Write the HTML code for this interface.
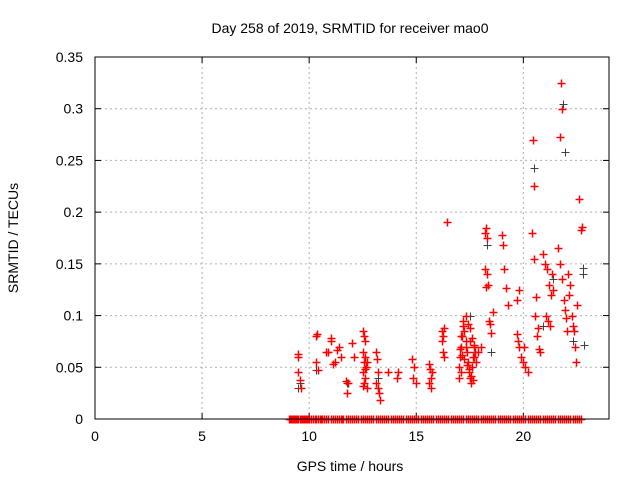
<!DOCTYPE html>
<html><head><meta charset="utf-8"><style>
html,body{margin:0;padding:0;background:#fff;}
svg{display:block;font-family:"Liberation Sans",sans-serif;}
</style></head><body>
<svg id="c" width="640" height="480" viewBox="0 0 640 480">
<text x="350" y="33" font-size="14" text-anchor="middle">Day 258 of 2019, SRMTID for receiver mao0</text>
<text x="350" y="471" font-size="14" text-anchor="middle">GPS time / hours</text>
<text x="18" y="238" font-size="14" text-anchor="middle" transform="rotate(-90 18 238)">SRMTID / TECUs</text>
<g id="grid"></g>
<g id="ticks"></g>
<rect x="95" y="57" width="514" height="362" fill="none" stroke="#000" stroke-width="1"/>
<g id="black"></g>
<g id="red"></g>
<line x1="95" y1="419" x2="609" y2="419" stroke="#000" stroke-width="1"/>
</svg>
<script>
const xTicks=[0,5,10,15,20];
const yTicks=[0,0.05,0.1,0.15,0.2,0.25,0.3,0.35];
const yTickLabels=["0","0.05","0.1","0.15","0.2","0.25","0.3","0.35"];
const redTimes=[9.5,9.5,9.5,9.55,9.6,10.3,10.35,10.3,10.4,10.8,10.9,11.0,11.1,11.2,11.3,11.4,11.5,11.0,11.7,11.8,11.75,12.0,12.1,12.5,12.55,12.6,12.5,12.6,12.55,12.65,12.5,12.6,12.55,12.7,12.5,12.6,12.7,13.1,13.15,13.2,13.1,13.25,13.3,13.2,13.7,14.1,14.15,14.8,14.9,14.85,15.0,15.6,15.65,15.7,15.6,15.75,15.7,16.2,16.25,16.3,16.2,16.25,16.3,16.45,
17.0,17.05,17.1,17.15,17.2,17.25,17.3,17.35,17.4,17.45,17.5,17.55,17.6,17.65,17.7,17.75,17.8,17.0,17.1,17.2,17.3,17.4,17.5,17.6,17.7,17.05,17.15,17.25,17.35,17.45,17.55,17.65,17.1,17.3,17.5,17.7,17.9,18.0,
18.2,18.25,18.3,18.2,18.3,18.35,18.25,18.4,18.45,18.5,18.6,19.0,19.05,19.1,19.2,19.3,19.7,19.75,19.8,19.9,20.0,20.1,20.2,19.7,19.8,20.05,
20.45,20.5,20.4,20.5,20.6,20.55,20.7,20.65,20.75,20.8,20.9,21.0,21.1,21.2,21.3,21.05,21.15,21.25,21.35,21.4,
21.75,21.8,21.7,21.6,21.7,21.8,21.9,21.95,22.0,22.05,22.1,22.2,22.15,22.25,22.3,22.35,22.4,22.45,22.5,22.6,22.7,22.75];
const redValues=[0.045,0.06,0.063,0.038,0.03,0.08,0.082,0.055,0.047,0.065,0.065,0.075,0.053,0.055,0.067,0.07,0.06,0.078,0.037,0.035,0.025,0.073,0.06,0.085,0.08,0.075,0.065,0.06,0.055,0.05,0.045,0.04,0.035,0.03,0.032,0.048,0.055,0.065,0.058,0.045,0.035,0.025,0.018,0.03,0.045,0.04,0.045,0.058,0.05,0.04,0.035,0.053,0.048,0.04,0.035,0.045,0.03,0.085,0.08,0.088,0.075,0.065,0.06,0.19,
0.05,0.06,0.07,0.08,0.09,0.085,0.075,0.065,0.055,0.045,0.04,0.035,0.05,0.06,0.07,0.065,0.055,0.04,0.045,0.095,0.1,0.092,0.088,0.078,0.072,0.068,0.062,0.058,0.052,0.048,0.042,0.038,0.08,0.07,0.075,0.06,0.065,0.07,
0.18,0.185,0.175,0.145,0.14,0.13,0.128,0.095,0.092,0.083,0.103,0.178,0.168,0.145,0.127,0.11,0.082,0.075,0.07,0.06,0.055,0.05,0.045,0.115,0.125,0.07,
0.27,0.225,0.18,0.155,0.118,0.1,0.088,0.08,0.068,0.065,0.16,0.15,0.145,0.13,0.12,0.1,0.095,0.09,0.14,0.125,
0.325,0.3,0.273,0.165,0.15,0.135,0.115,0.105,0.098,0.085,0.14,0.13,0.12,0.1,0.09,0.085,0.07,0.055,0.11,0.213,0.183,0.186];
const blackTimes=[9.5,9.55,10.3,11.0,11.75,12.6,13.2,16.2,17.5,18.3,18.5,20.5,20.9,21.4,21.85,21.95,22.3,22.8,22.8,22.85];
const blackValues=[0.03,0.035,0.047,0.078,0.035,0.075,0.04,0.085,0.1,0.168,0.065,0.243,0.09,0.135,0.305,0.258,0.075,0.14,0.146,0.072];
const zeroTimes=[9.05,9.1,9.15,9.2,9.25,9.3,9.35,9.4,9.45,9.5,9.55,9.6,9.65,9.7,9.75,9.8,9.85,9.9,9.95,10.0,10.1,10.2,10.25,10.3,10.4,10.5,10.55,10.6,10.7,10.8,10.9,11.0,11.1,11.2,11.3,11.4,11.5,11.55,11.6,11.7,11.8,11.9,12.0,12.1,12.2,12.3,12.4,12.5,12.6,12.7,12.8,12.9,13.0,13.1,13.2,13.3,13.4,13.5,13.6,13.7,13.8,13.9,14.0,14.1,14.2,14.3,14.4,14.5,14.6,14.7,14.8,14.9,15.0,15.1,15.2,15.3,15.4,15.5,15.6,15.7,15.8,15.9,16.0,16.1,16.2,16.3,16.4,16.5,16.6,16.7,16.8,16.9,17.0,17.1,17.2,17.3,17.4,17.5,17.6,17.7,17.8,17.9,18.0,18.1,18.2,18.3,18.4,18.5,18.6,18.7,18.8,18.9,19.0,19.1,19.2,19.3,19.4,19.5,19.6,19.7,19.8,19.9,20.0,20.1,20.2,20.3,20.4,20.5,20.6,20.7,20.8,20.9,21.0,21.1,21.2,21.3,21.4,21.5,21.6,21.7,21.8,21.9,22.0,22.1,22.2,22.3,22.4,22.5,22.6,22.7];
const X0=95,X1=609,Y0=419,Y1=57;
function sx(h){return X0+(h/24)*(X1-X0);}
function sy(v){return Y0-(v/0.35)*(Y0-Y1);}
const NS="http://www.w3.org/2000/svg";
function mk(tag,attrs,parent){const e=document.createElementNS(NS,tag);for(const k in attrs)e.setAttribute(k,attrs[k]);parent.appendChild(e);return e;}
const grid=document.getElementById('grid'),ticks=document.getElementById('ticks');
xTicks.forEach(t=>{const x=sx(t);
 if(t>0){const g=mk('line',{x1:x,x2:x,y1:Y1,y2:Y0,stroke:'#b0b0b0','stroke-dasharray':'2,3'},grid);}
 mk('line',{x1:x,x2:x,y1:Y0,y2:Y0-6,stroke:'#000'},ticks);mk('line',{x1:x,x2:x,y1:Y1,y2:Y1+6,stroke:'#000'},ticks);
 const l=mk('text',{x:x,y:Y0+22,'font-size':14,'text-anchor':'middle'},ticks);l.textContent=t;
 
 });
yTicks.forEach((t,i)=>{const y=sy(t);
 if(i>0&&i<yTicks.length-1){const g=mk('line',{x1:X0,x2:X1,y1:y,y2:y,stroke:'#b0b0b0','stroke-dasharray':'2,3'},grid);}
 mk('line',{x1:X0,x2:X0+6,y1:y,y2:y,stroke:'#000'},ticks);mk('line',{x1:X1,x2:X1-6,y1:y,y2:y,stroke:'#000'},ticks);
 const l=mk('text',{x:X0-12,y:y+5,'font-size':14,'text-anchor':'end'},ticks);l.textContent=yTickLabels[i];
 
 });
function plus(g,h,v,col,w){const x=Math.round(sx(h))+0.5,y=Math.round(sy(v))+0.5;
 const p=mk('path',{d:`M${x-4},${y}H${x+4}M${x},${y-4}V${y+4}`,stroke:col,'stroke-width':w,fill:'none'},g);
 
 }
const bg=document.getElementById('black'),rg=document.getElementById('red');
blackTimes.forEach((t,i)=>plus(bg,t,blackValues[i],'#404040',1));
redTimes.forEach((t,i)=>plus(rg,t,redValues[i],'#ff0000',1.5));
zeroTimes.forEach(t=>plus(rg,t,0,'#ff0000',1.5));
</script>
</body></html>
